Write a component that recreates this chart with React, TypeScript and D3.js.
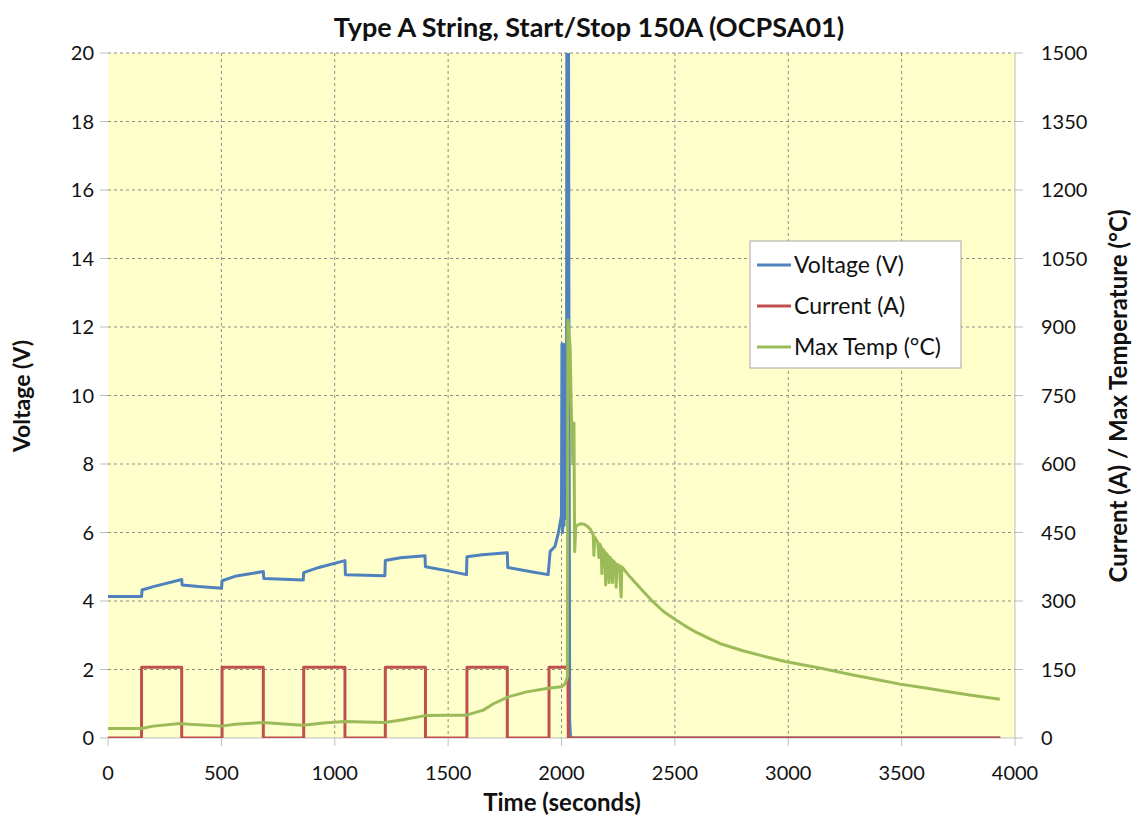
import React from "react";
import * as d3 from "d3";

const TITLE = "Type A String, Start/Stop 150A (OCPSA01)";
const X_TICKS = [0, 500, 1000, 1500, 2000, 2500, 3000, 3500, 4000];
const LEFT_TICKS = [0, 2, 4, 6, 8, 10, 12, 14, 16, 18, 20];
const RIGHT_TICKS = [0, 150, 300, 450, 600, 750, 900, 1050, 1200, 1350, 1500];

// Voltage (V) vs time (s)
const voltageT = [0, 148, 150, 200, 325, 327, 400, 501, 503, 560, 685, 687, 861, 863, 930, 1045, 1047, 1221, 1223, 1290, 1398, 1400, 1500, 1581, 1583, 1650, 1761, 1763, 1860, 1941, 1950, 1971, 1986, 2000, 2002, 2005, 2008, 2011, 2014, 2017, 2020, 2022, 2024, 2030, 2033, 2036, 2040, 3935];
const voltageV = [4.13, 4.13, 4.32, 4.42, 4.63, 4.47, 4.42, 4.37, 4.59, 4.72, 4.86, 4.66, 4.61, 4.83, 4.98, 5.18, 4.77, 4.74, 5.18, 5.26, 5.32, 5.0, 4.88, 4.77, 5.29, 5.35, 5.41, 4.98, 4.86, 4.77, 5.45, 5.59, 5.98, 6.5, 11.5, 6.0, 11.5, 6.2, 11.4, 6.4, 11.5, 6.6, 25, 25, 11, 0.5, 0, 0];

// Current (A) vs time (s)
const currentT = [0, 148, 148, 325, 325, 503, 503, 685, 685, 863, 863, 1045, 1045, 1223, 1223, 1400, 1400, 1583, 1583, 1761, 1761, 1945, 1945, 2020, 2028, 2030, 3935];
const currentA = [0, 0, 155, 155, 0, 0, 155, 155, 0, 0, 155, 155, 0, 0, 155, 155, 0, 0, 155, 155, 0, 0, 155, 155, 160, 0, 0];

// Max Temp (°C) vs time (s)
const tempT = [0, 148, 200, 317, 360, 501, 560, 685, 760, 861, 950, 1045, 1130, 1221, 1300, 1398, 1500, 1581, 1655, 1700, 1765, 1846, 1941, 2000, 2015, 2022, 2026, 2028, 2034, 2038, 2044, 2050, 2055, 2058, 2063, 2070, 2085, 2100, 2115, 2127, 2140, 2143, 2146, 2160, 2165, 2168, 2175, 2178, 2181, 2190, 2195, 2198, 2205, 2210, 2213, 2220, 2225, 2228, 2238, 2241, 2244, 2255, 2263, 2266, 2300, 2350, 2404, 2450, 2500, 2550, 2600, 2650, 2698, 2800, 2900, 2992, 3150, 3286, 3400, 3492, 3600, 3700, 3800, 3933];
const tempC = [21, 21, 26, 32, 30, 26, 30, 34, 31, 28, 33, 36, 35, 34, 40, 49, 50, 50, 61, 75, 90, 101, 109, 112, 118, 127, 135, 915, 880, 857, 700, 600, 690, 408, 463, 466, 469, 468, 463, 457, 445, 400, 440, 428, 395, 425, 418, 360, 414, 408, 335, 404, 399, 340, 396, 391, 340, 388, 382, 330, 380, 378, 309, 375, 354, 327, 298, 277, 260, 244, 230, 218, 207, 191, 178, 167, 152, 138, 127, 118, 110, 102, 94, 85];

const LEGEND = [
  { label: "Voltage (V)", color: "#4F81BD" },
  { label: "Current (A)", color: "#C0504D" },
  { label: "Max Temp (°C)", color: "#9BBB59" },
];

const W = 1133;
const H = 819;
const M = { left: 108, right: 1015, top: 53, bottom: 738 };
const FONT = "Lato, 'Open Sans', sans-serif";

export default function App() {
  const x = d3.scaleLinear().domain([0, 4000]).range([M.left, M.right]);
  const yL = d3.scaleLinear().domain([0, 20]).range([M.bottom, M.top]);
  const yR = d3.scaleLinear().domain([0, 1500]).range([M.bottom, M.top]);

  const lineV = d3.line<number>().x((d, i) => x(voltageT[i])).y((d) => yL(d));
  const lineA = d3.line<number>().x((d, i) => x(currentT[i])).y((d) => yR(d));
  const lineT = d3.line<number>().x((d, i) => x(tempT[i])).y((d) => yR(d));

  const gridColor = "#8c8c8c";
  const axisColor = "#bfbfbf";

  return (
    <svg width={W} height={H} style={{ position: "absolute", left: 0, top: 0, background: "#fff" }} fontFamily={FONT}>
      <defs>
        <clipPath id="plotClip">
          <rect x={M.left} y={M.top} width={M.right - M.left} height={M.bottom - M.top} />
        </clipPath>
      </defs>
      <rect x={0} y={0} width={W} height={H} fill="#fff" />
      <rect x={M.left} y={M.top} width={M.right - M.left} height={M.bottom - M.top} fill="#FFFFCC" />

      {LEFT_TICKS.filter((t) => t > 0).map((t) => (
        <line key={"hg" + t} x1={M.left} x2={M.right} y1={yL(t)} y2={yL(t)} stroke={gridColor} strokeWidth={1} strokeDasharray="3,3" />
      ))}
      {X_TICKS.filter((t) => t > 0 && t < 4000).map((t) => (
        <line key={"vg" + t} x1={x(t)} x2={x(t)} y1={M.top} y2={M.bottom} stroke={gridColor} strokeWidth={1} strokeDasharray="3,3" />
      ))}

      <line x1={M.left} x2={M.right} y1={M.bottom} y2={M.bottom} stroke={axisColor} />
      <line x1={M.right} x2={M.right} y1={M.top} y2={M.bottom} stroke={axisColor} />
      {X_TICKS.map((t) => (
        <g key={"xt" + t}>
          <line x1={x(t)} x2={x(t)} y1={M.bottom} y2={M.bottom + 8} stroke={axisColor} />
          <text x={x(t)} y={M.bottom + 42} textAnchor="middle" fontSize={20} fill="#111">{t}</text>
        </g>
      ))}
      {LEFT_TICKS.map((t) => (
        <g key={"lt" + t}>
          <line x1={M.left - 8} x2={M.left} y1={yL(t)} y2={yL(t)} stroke={axisColor} />
          <text x={M.left - 14} y={yL(t)} dy="0.35em" textAnchor="end" fontSize={20} fill="#111">{t}</text>
        </g>
      ))}
      {RIGHT_TICKS.map((t) => (
        <g key={"rt" + t}>
          <line x1={M.right} x2={M.right + 8} y1={yR(t)} y2={yR(t)} stroke={axisColor} />
          <text x={M.right + 26} y={yR(t)} dy="0.35em" textAnchor="start" fontSize={20} fill="#111">{t}</text>
        </g>
      ))}

      <g clipPath="url(#plotClip)" fill="none" strokeLinejoin="round">
        <path d={lineV(voltageV) || ""} stroke="#4F81BD" strokeWidth={3} />
        <path d={lineA(currentA) || ""} stroke="#C0504D" strokeWidth={3} />
        <path d={lineT(tempC) || ""} stroke="#9BBB59" strokeWidth={3} />
      </g>

      <rect x={750} y={241} width={211} height={127} fill="#fff" stroke="#a6a6a6" strokeWidth={1} />
      {LEGEND.map((d, i) => (
        <g key={d.label} transform={`translate(757, ${265 + i * 41})`}>
          <line x1={0} x2={34} y1={0} y2={0} stroke={d.color} strokeWidth={3} />
          <text x={37} y={0} dy="0.35em" fontSize={23} fill="#111">{d.label}</text>
        </g>
      ))}

      <text x={589} y={37} textAnchor="middle" fontSize={27} fontWeight="bold" fill="#111">{TITLE}</text>
      <text x={562} y={811} textAnchor="middle" fontSize={24} fontWeight="bold" fill="#111">Time (seconds)</text>
      <text transform={`translate(30, 396) rotate(-90)`} textAnchor="middle" fontSize={23} fontWeight="bold" fill="#111">Voltage (V)</text>
      <text transform={`translate(1127, 396) rotate(-90)`} textAnchor="middle" fontSize={24} fontWeight="bold" fill="#111">Current (A) / Max Temperature  (°C)</text>
    </svg>
  );
}
